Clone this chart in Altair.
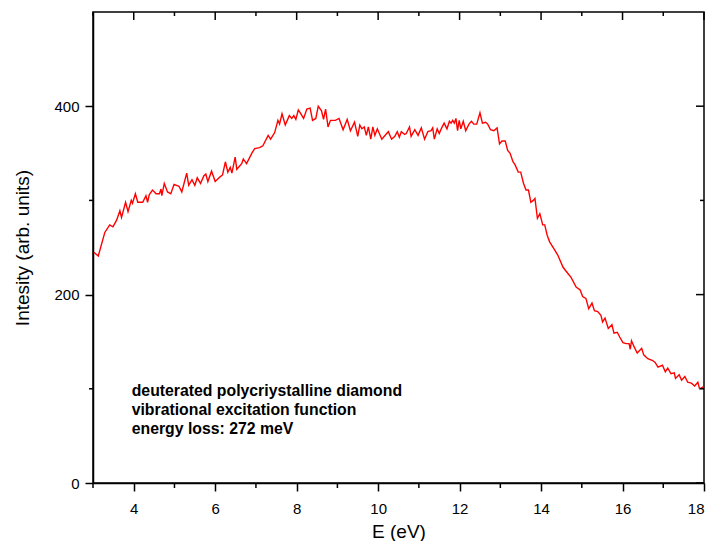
import altair as alt
import pandas as pd

# Spectrum: energy (eV) and intensity (arb. units)
energy = [
    3.02, 3.13, 3.29, 3.41, 3.49, 3.58, 3.66, 3.70, 3.80, 3.86, 3.94, 3.97, 4.04, 4.10,
    4.22, 4.30, 4.34, 4.38, 4.46, 4.55, 4.63, 4.67, 4.69, 4.75, 4.83, 4.91, 4.99, 5.11,
    5.18, 5.30, 5.35, 5.43, 5.50, 5.56, 5.64, 5.72, 5.77, 5.82, 5.91, 6.00, 6.12, 6.18,
    6.25, 6.31, 6.37, 6.41, 6.49, 6.53, 6.65, 6.69, 6.77, 6.85, 6.91,
    6.97, 7.09, 7.17, 7.30, 7.36, 7.46, 7.54, 7.58, 7.64, 7.72, 7.78, 7.82, 7.88, 7.93,
    7.98, 8.04, 8.10, 8.17, 8.25, 8.33, 8.39, 8.47, 8.53, 8.61, 8.66, 8.71, 8.77, 8.83,
    8.95, 9.04, 9.14, 9.24, 9.32, 9.42, 9.50, 9.55, 9.60, 9.66, 9.71, 9.76, 9.82, 9.87,
    9.92, 9.98, 10.09, 10.19, 10.25, 10.33, 10.41, 10.47, 10.52, 10.57, 10.65, 10.69,
    10.77, 10.81, 10.90, 10.98, 11.06, 11.14, 11.22, 11.30, 11.34, 11.38, 11.45, 11.50,
    11.56, 11.62, 11.69, 11.75, 11.79, 11.83, 11.87, 11.91, 11.95, 11.99, 12.03, 12.09,
    12.15, 12.23, 12.29, 12.35, 12.42, 12.50, 12.56, 12.64, 12.69, 12.76, 12.84, 12.92,
    12.98, 13.04, 13.12, 13.18, 13.24, 13.31, 13.36, 13.44, 13.50, 13.57, 13.63, 13.69,
    13.75, 13.81, 13.85, 13.91, 13.97, 14.04, 14.09, 14.15, 14.21, 14.31, 14.41, 14.54,
    14.63, 14.74, 14.86, 14.96, 15.02, 15.10, 15.17, 15.25, 15.31, 15.39, 15.47, 15.51,
    15.57, 15.65, 15.74, 15.79, 15.87, 15.93, 16.01, 16.09, 16.16, 16.19, 16.22, 16.28,
    16.36, 16.47, 16.52, 16.62, 16.74, 16.80, 16.87, 16.98, 17.05, 17.11, 17.19, 17.27,
    17.30, 17.39, 17.45, 17.53, 17.60, 17.69, 17.77, 17.85, 17.89, 17.98,
]
intensity = [
    245, 241, 266, 274, 272, 279, 289, 282, 298, 288, 300, 297, 307, 298,
    298, 305, 298, 306, 311, 307, 307, 312, 305, 318, 309, 307, 317, 315,
    309, 329, 316, 322, 316, 324, 318, 326, 328, 320, 331, 320, 325, 327,
    341, 330, 335, 329, 346, 333, 339, 344, 339, 346, 351,
    355, 356, 358, 369, 365, 372, 385, 381, 392, 380, 386, 390, 387, 390,
    386, 396, 392, 387, 397, 398, 385, 387, 400, 395, 386, 397, 378, 385,
    385, 387, 375, 386, 374, 383, 368, 380, 376, 378, 369, 378, 365, 378,
    369, 376, 365, 370, 373, 365, 368, 373, 367, 373, 370, 371,
    378, 368, 375, 369, 377, 365, 373, 374, 377, 365, 376, 371,
    377, 382, 376, 384, 382, 385, 382, 387, 374, 385, 376, 384,
    374, 381, 384, 381, 381, 393, 382, 383, 381, 375, 374, 377,
    360, 363, 363, 353, 350, 341, 338, 330, 330, 318, 311, 311,
    298, 300, 302, 281, 286, 274, 274, 263, 256, 249, 242, 229,
    224, 218, 208, 205, 198, 196, 185, 191, 183, 182, 178, 171,
    175, 164, 168, 159, 160, 155, 149, 148, 148, 142, 151, 145,
    138, 143, 136, 132, 130, 128, 123, 125, 118, 122, 116, 117,
    111, 115, 109, 113, 107, 106, 103, 107, 100, 102,
]

x_major = [4, 6, 8, 10, 12, 14, 16, 18]
x_minor = [3, 5, 7, 9, 11, 13, 15, 17]
y_major = [0, 200, 400]
y_minor = [100, 300]

ann_lines = [
    "deuterated polycriystalline diamond",
    "vibrational excitation function",
    "energy loss: 272 meV",
]
ann_e = [3.95, 3.95, 3.95]
ann_i = [97.5, 77.5, 57.5]

FONT = "Liberation Sans"
W, H = 611, 471

spec = pd.DataFrame({"E": energy, "I": intensity})
xs = alt.Scale(domain=[3, 18], nice=False, zero=False)
ys = alt.Scale(domain=[0, 500], nice=False)

line = alt.Chart(spec).mark_line(color="#ff0000", strokeWidth=1.4).encode(
    x=alt.X("E:Q", scale=xs, title="E (eV)",
            axis=alt.Axis(values=x_major, tickSize=8, labelPadding=10, format="d",
                          titleY=48, titleBaseline="middle")),
    y=alt.Y("I:Q", scale=ys, title="Intesity (arb. units)",
            axis=alt.Axis(values=y_major, tickSize=8, labelPadding=6, format="d",
                          titleX=-71, titleBaseline="middle")),
)

xmaj = pd.DataFrame({"v": x_major})
xmin = pd.DataFrame({"v": x_minor})
ymaj = pd.DataFrame({"v": y_major})
ymin = pd.DataFrame({"v": y_minor})

tick_style = dict(color="black", strokeWidth=1.5)

top_major = alt.Chart(xmaj).mark_rule(**tick_style).encode(
    x=alt.X("v:Q", scale=xs), y=alt.value(0), y2=alt.value(8))
top_minor = alt.Chart(xmin).mark_rule(**tick_style).encode(
    x=alt.X("v:Q", scale=xs), y=alt.value(0), y2=alt.value(4))
bot_minor = alt.Chart(xmin).mark_rule(**tick_style).encode(
    x=alt.X("v:Q", scale=xs), y=alt.value(H), y2=alt.value(H + 5))
right_major = alt.Chart(ymaj).mark_rule(**tick_style).encode(
    y=alt.Y("v:Q", scale=ys), x=alt.value(W), x2=alt.value(W - 8))
right_minor = alt.Chart(ymin).mark_rule(**tick_style).encode(
    y=alt.Y("v:Q", scale=ys), x=alt.value(W), x2=alt.value(W - 4))
left_minor = alt.Chart(ymin).mark_rule(**tick_style).encode(
    y=alt.Y("v:Q", scale=ys), x=alt.value(0), x2=alt.value(-4))

ann = alt.Chart(pd.DataFrame({"t": ann_lines, "E": ann_e, "I": ann_i})).mark_text(
    align="left", baseline="middle", font=FONT, fontSize=15.8, fontWeight="bold",
    color="black").encode(
    x=alt.X("E:Q", scale=xs), y=alt.Y("I:Q", scale=ys), text="t:N")

chart = alt.layer(line, top_major, top_minor, bot_minor, right_major, right_minor,
                  left_minor, ann).properties(
    width=W, height=H,
    autosize=alt.AutoSizeParams(type="none"),
    padding={"left": 85, "top": 4, "right": 8, "bottom": 58},
).configure_view(
    stroke="black", strokeWidth=1.5
).configure_axis(
    grid=False, domainColor="black", domainWidth=1.5, tickColor="black",
    tickWidth=1.5, labelFont=FONT, titleFont=FONT, labelFontSize=15,
    titleFontSize=19, titleFontWeight="normal", labelColor="black",
    titleColor="black",
)

chart.save("out.html", embed_options={"renderer": "svg", "actions": False})
